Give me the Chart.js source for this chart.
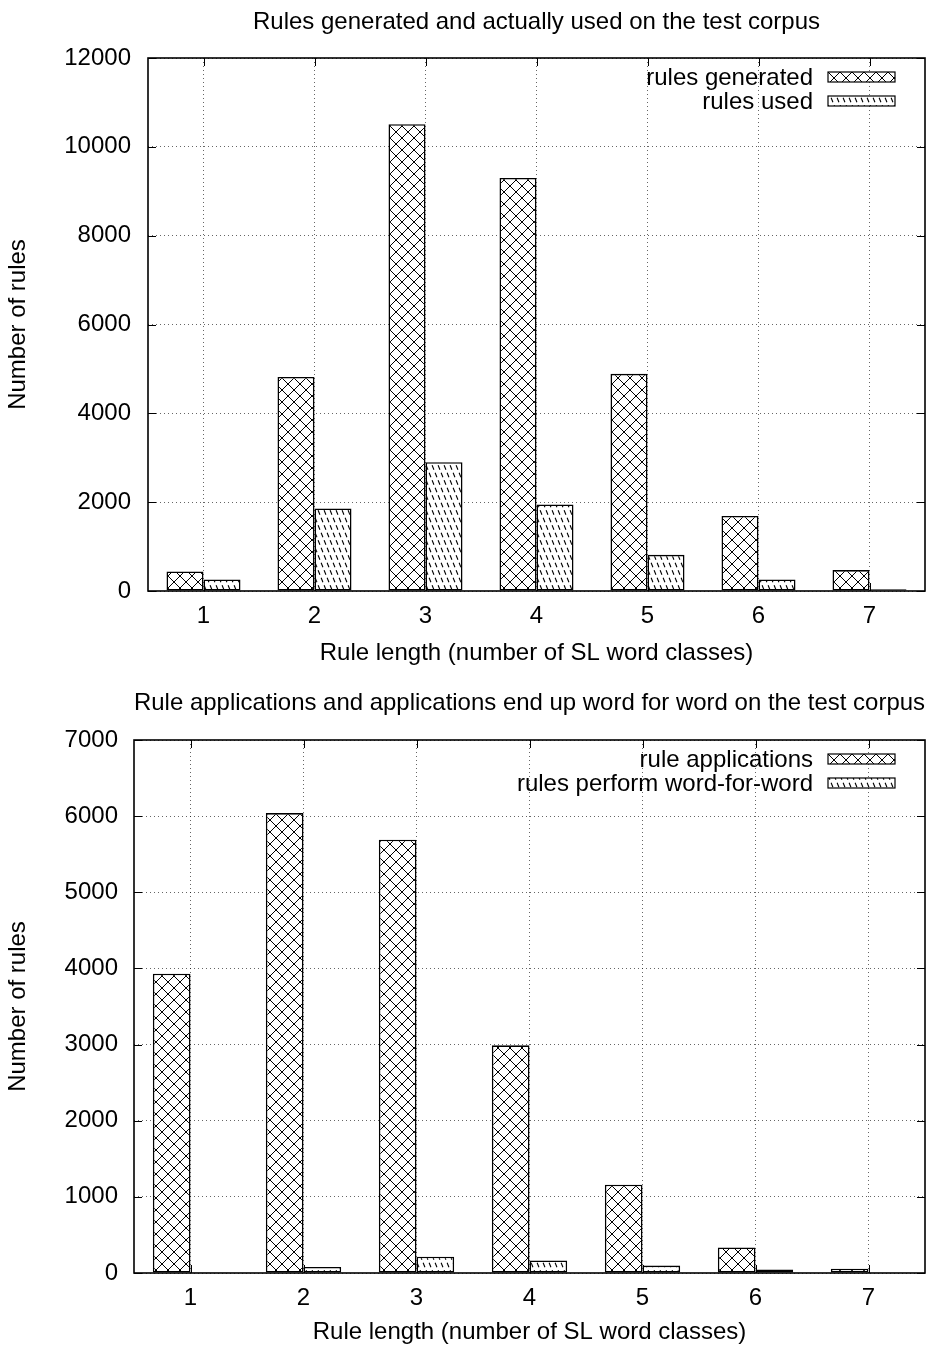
<!DOCTYPE html>
<html>
<head>
<meta charset="utf-8">
<title>Rule statistics</title>
<script src="https://cdn.jsdelivr.net/npm/chart.js@4/dist/chart.umd.min.js"></script>
<style>
  html, body { margin: 0; padding: 0; background: #fff; }
  canvas { display: block; position: absolute; left: 0; }
  #rulesChart { top: 0; }
  #applicationsChart { top: 670px; }
</style>
</head>
<body>
<canvas id="rulesChart" width="933" height="670"></canvas>
<canvas id="applicationsChart" width="933" height="677"></canvas>
<script>
// Rule length = number of source-language word classes
const ruleLengths = [1, 2, 3, 4, 5, 6, 7];

// Upper chart: rules generated vs. rules actually used
const rulesGenerated = [440, 4820, 10510, 9300, 4890, 1690, 470];
const rulesUsed = [260, 1860, 2900, 1950, 815, 260, 40];

// Lower chart: rule applications vs. applications ending up word for word
const ruleApplications = [3930, 6040, 5690, 2990, 1160, 336, 56];
const wordForWord = [10, 80, 215, 165, 97, 45, 8];

const upperYTicks = [0, 2000, 4000, 6000, 8000, 10000, 12000];
const lowerYTicks = [0, 1000, 2000, 3000, 4000, 5000, 6000, 7000];

const FONT = '"Liberation Sans", Arial, Helvetica, sans-serif';
Chart.defaults.font.family = FONT;
Chart.defaults.font.size = 24;
Chart.defaults.color = '#000';

// Fill patterns: dense crosshatch and steep dashed diagonals
function crossHatch(ctx) {
  const s = 12;
  const c = document.createElement('canvas');
  c.width = c.height = s;
  const g = c.getContext('2d');
  g.fillStyle = '#fff';
  g.fillRect(0, 0, s, s);
  g.strokeStyle = '#000';
  g.lineWidth = 1;
  g.beginPath();
  for (const o of [-s, 0, s]) {
    g.moveTo(o, 0); g.lineTo(o + s, s);
    g.moveTo(o + s, 0); g.lineTo(o, s);
  }
  g.stroke();
  return ctx.createPattern(c, 'repeat');
}

function dashedDiagonals(ctx) {
  const w = 6, h = 15;
  const c = document.createElement('canvas');
  c.width = w; c.height = h;
  const g = c.getContext('2d');
  g.fillStyle = '#fff';
  g.fillRect(0, 0, w, h);
  g.strokeStyle = '#000';
  g.lineWidth = 1.1;
  g.beginPath();
  for (const dx of [-w, 0, w]) {
    for (const [t1, t2] of [[0.02, 0.32], [0.52, 0.82]]) {
      g.moveTo(dx + w * t1, h * t1);
      g.lineTo(dx + w * t2, h * t2);
    }
  }
  g.stroke();
  return ctx.createPattern(c, 'repeat');
}

// Plot border with inward tick marks on all four sides
const framePlugin = {
  id: 'frame',
  afterDatasetsDraw(chart) {
    const { ctx, chartArea: a, scales: { x, y } } = chart;
    ctx.save();
    ctx.strokeStyle = '#000';
    ctx.lineWidth = 1;
    ctx.beginPath();
    const L = 8;
    y.ticks.forEach(t => {
      const py = Math.round(y.getPixelForValue(t.value)) + 0.5;
      ctx.moveTo(a.left, py); ctx.lineTo(a.left + L, py);
      ctx.moveTo(a.right, py); ctx.lineTo(a.right - L, py);
    });
    x.ticks.forEach(t => {
      const px = Math.round(x.getPixelForValue(t.value)) + 0.5;
      ctx.moveTo(px, a.bottom); ctx.lineTo(px, a.bottom - L);
      ctx.moveTo(px, a.top); ctx.lineTo(px, a.top + L);
    });
    ctx.stroke();
    ctx.lineWidth = 1.6;
    ctx.strokeRect(a.left, a.top, a.right - a.left, a.bottom - a.top);
    ctx.restore();
  }
};

// Key in the upper right corner: label text, then a pattern sample box
const keyPlugin = {
  id: 'key',
  afterDraw(chart) {
    const { ctx, chartArea: a } = chart;
    ctx.save();
    ctx.font = '24px ' + FONT;
    ctx.textAlign = 'right';
    ctx.textBaseline = 'middle';
    chart.data.datasets.forEach((ds, i) => {
      const cy = a.top + 19 + i * 24;
      ctx.fillStyle = '#000';
      ctx.fillText(ds.label, a.right - 112, cy + 1);
      const bx = a.right - 97, bw = 67, bh = 10;
      ctx.fillStyle = ds.backgroundColor;
      ctx.fillRect(bx, cy - bh / 2, bw, bh);
      ctx.strokeStyle = '#000';
      ctx.lineWidth = 1.2;
      ctx.strokeRect(bx, cy - bh / 2, bw, bh);
    });
    ctx.restore();
  }
};

function makeChart(canvas, opts) {
  const ctx = canvas.getContext('2d');
  const gridStyle = {
    color: 'rgba(0,0,0,0.6)',
    lineWidth: 1,
    drawTicks: false,
    offset: false
  };
  return new Chart(ctx, {
    type: 'bar',
    data: {
      datasets: [
        {
          label: opts.names[0],
          data: ruleLengths.map((x, i) => ({ x, y: opts.first[i] })),
          backgroundColor: crossHatch(ctx),
          borderColor: '#000',
          borderWidth: 1.6,
          borderSkipped: false
        },
        {
          label: opts.names[1],
          data: ruleLengths.map((x, i) => ({ x, y: opts.second[i] })),
          backgroundColor: dashedDiagonals(ctx),
          borderColor: '#000',
          borderWidth: 1.6,
          borderSkipped: false
        }
      ]
    },
    options: {
      responsive: false,
      animation: false,
      categoryPercentage: 2 / 3,
      barPercentage: 1,
      layout: { padding: { left: 0, right: 8, top: 0, bottom: 0 } },
      plugins: {
        legend: { display: false },
        tooltip: { enabled: false },
        title: {
          display: true,
          text: opts.title,
          fullSize: false,
          font: { size: 24, weight: 'normal' },
          padding: opts.titlePadding
        }
      },
      scales: {
        x: {
          type: 'linear',
          min: 0.5,
          max: 7.5,
          offset: false,
          afterBuildTicks: s => { s.ticks = ruleLengths.map(v => ({ value: v })); },
          afterFit: s => { s.height = opts.xAxisHeight; },
          ticks: { padding: 10.6, callback: v => String(v), font: { size: 24 } },
          grid: gridStyle,
          border: { display: false, dash: [1, 3] },
          title: {
            display: true,
            text: 'Rule length (number of SL word classes)',
            font: { size: 24 },
            padding: { top: 0, bottom: opts.xTitlePad }
          }
        },
        y: {
          type: 'linear',
          min: 0,
          max: opts.yTicks[opts.yTicks.length - 1],
          afterBuildTicks: s => { s.ticks = opts.yTicks.map(v => ({ value: v })); },
          afterFit: s => { s.width = opts.yAxisWidth; },
          ticks: { padding: opts.yLabelPad, callback: v => String(v), font: { size: 24 } },
          grid: gridStyle,
          border: { display: false, dash: [1, 3] },
          title: {
            display: true,
            text: 'Number of rules',
            font: { size: 24 },
            padding: { top: 4, bottom: 0 }
          }
        }
      }
    },
    plugins: [framePlugin, keyPlugin]
  });
}

const upper = makeChart(document.getElementById('rulesChart'), {
  title: 'Rules generated and actually used on the test corpus',
  names: ['rules generated', 'rules used'],
  first: rulesGenerated,
  second: rulesUsed,
  yTicks: upperYTicks,
  titlePadding: { top: 8, bottom: 21.2 },
  xAxisHeight: 79,
  xTitlePad: 2.6,
  yAxisWidth: 148,
  yLabelPad: 17
});

const lower = makeChart(document.getElementById('applicationsChart'), {
  title: 'Rule applications and applications end up word for word on the test corpus',
  names: ['rule applications', 'rules perform word-for-word'],
  first: ruleApplications,
  second: wordForWord,
  yTicks: lowerYTicks,
  titlePadding: { top: 18.6, bottom: 22.6 },
  xAxisHeight: 74,
  xTitlePad: 0,
  yAxisWidth: 134,
  yLabelPad: 16
});
</script>
</body>
</html>
